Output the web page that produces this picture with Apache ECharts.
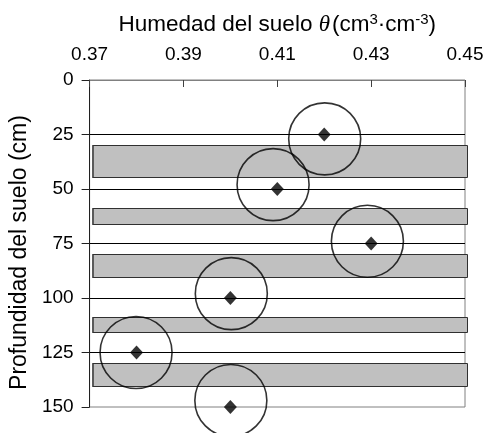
<!DOCTYPE html>
<html>
<head>
<meta charset="utf-8">
<script src="https://cdn.jsdelivr.net/npm/echarts@6/dist/echarts.min.js"></script>
<style>
  html, body { margin: 0; padding: 0; background: #fff; }
  #chart { width: 487px; height: 433px; }
</style>
</head>
<body>
<div id="chart"></div>
<script>
// Soil moisture (cm3/cm3) measured at each depth (cm)
const moisture = [0.42, 0.41, 0.43, 0.40, 0.38, 0.40];
const depth = [25, 50, 75, 100, 125, 150];

// Centres of the rings drawn around each measurement
const ringMoisture = [0.4201, 0.4091, 0.4292, 0.4002, 0.3799, 0.4001];
const ringDepth = [27, 48, 74, 98, 125, 147];

// Shaded soil layers: upper and lower depth (cm)
const bandTop = [30, 58.5, 80, 108.5, 130];
const bandBottom = [44.5, 65.8, 90.7, 115.6, 140.7];

const FONT = '"Liberation Sans", Arial, sans-serif';

const chart = echarts.init(document.getElementById('chart'));

chart.setOption({
  animation: false,
  backgroundColor: '#fff',
  grid: {
    left: 88, right: 22, top: 80, bottom: 26,
    show: true, borderColor: '#808080', borderWidth: 1, backgroundColor: 'transparent'
  },
  xAxis: {
    type: 'value',
    position: 'top',
    min: 0.37, max: 0.45, interval: 0.02,
    name: '{t|Humedad del suelo }{th|θ}{t|(cm}{sup|3}{t|·cm}{sup|-3}{t|)}',
    nameLocation: 'middle',
    nameGap: 42,
    nameTextStyle: {
      rich: {
        t: { fontFamily: FONT, fontSize: 22.5, color: '#000', lineHeight: 26 },
        th: { fontFamily: '"Liberation Serif", "DejaVu Serif", serif', fontStyle: 'italic', fontSize: 23, color: '#000', lineHeight: 26, padding: [0, 2, 0, 0] },
        sup: { fontFamily: FONT, fontSize: 15, color: '#000', lineHeight: 14, verticalAlign: 'top' }
      }
    },
    axisLine: { show: true, lineStyle: { color: '#808080', width: 1 } },
    axisTick: { show: true, inside: true, length: 7, lineStyle: { color: '#404040', width: 1 } },
    axisLabel: {
      margin: 16, fontFamily: FONT, fontSize: 19, color: '#000',
      formatter: v => v.toFixed(2)
    },
    splitLine: { show: false }
  },
  yAxis: {
    type: 'value',
    inverse: true,
    min: 0, max: 150, interval: 25,
    name: 'Profundidad del suelo (cm)',
    nameLocation: 'middle',
    nameGap: 54,
    nameTextStyle: { fontFamily: FONT, fontSize: 23, color: '#000', padding: [0, 18, 0, 0] },
    axisLine: { show: true, lineStyle: { color: '#202020', width: 1 } },
    axisTick: { show: true, inside: false, length: 8, lineStyle: { color: '#202020', width: 1 } },
    axisLabel: { margin: 16, fontFamily: FONT, fontSize: 19, color: '#000' },
    splitLine: {
      show: true, showMinLine: false, showMaxLine: false,
      lineStyle: { color: '#000', width: 1 }
    }
  },
  series: [
    {
      // soil layers
      type: 'custom',
      z: 1,
      silent: true,
      encode: { y: [0, 1] },
      data: bandTop.map((t, i) => [t, bandBottom[i]]),
      renderItem: function (params, api) {
        const p0 = api.coord([0.37, api.value(0)]);
        const p1 = api.coord([0.45, api.value(1)]);
        const x0 = p0[0] + 2;
        const w = p1[0] + 2 - x0;
        const h = p1[1] - p0[1];
        return {
          type: 'group',
          children: [
            {
              type: 'rect',
              shape: { x: Math.round(x0) + 0.5, y: Math.round(p0[1]) + 0.5, width: Math.round(w), height: Math.round(h) },
              style: { fill: '#c0c0c0', stroke: '#303030', lineWidth: 1 }
            },
            {
              type: 'rect',
              shape: { x: Math.round(x0), y: Math.round(p0[1]) + 1, width: 2, height: Math.round(h) - 1 },
              style: { fill: '#5a5a5a' }
            }
          ]
        };
      }
    },
    {
      // rings
      type: 'scatter',
      z: 3,
      silent: true,
      symbol: 'circle',
      symbolSize: 72,
      itemStyle: { color: 'rgba(0,0,0,0)', borderColor: '#000', borderWidth: 1.6 },
      data: ringMoisture.map((m, i) => [m, ringDepth[i]])
    },
    {
      // measurements
      type: 'scatter',
      z: 4,
      silent: true,
      symbol: 'diamond',
      symbolSize: [13, 14],
      itemStyle: { color: '#000' },
      data: moisture.map((m, i) => [m, depth[i]])
    }
  ]
});
</script>
</body>
</html>
